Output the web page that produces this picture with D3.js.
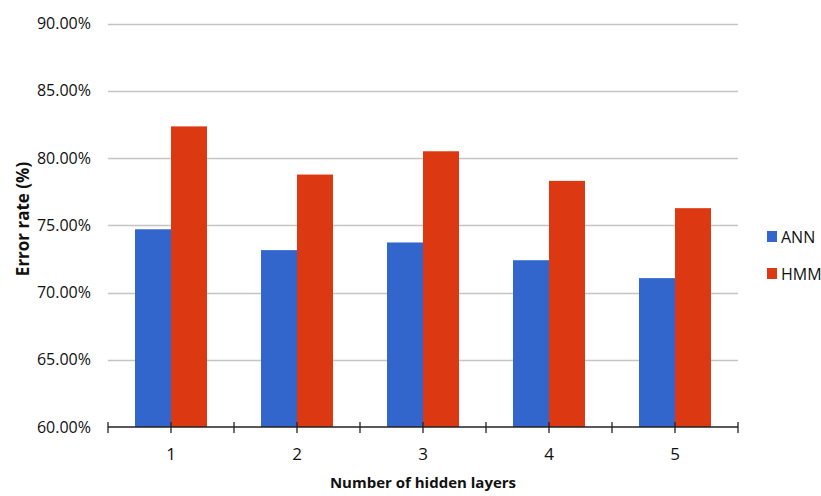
<!DOCTYPE html>
<html>
<head>
<meta charset="utf-8">
<script src="https://cdn.jsdelivr.net/npm/d3@7"></script>
<style>
  html, body { margin: 0; padding: 0; background: #fff; }
  svg { display: block; }
  text { font-family: "Open Sans", sans-serif; fill: #111; }
</style>
</head>
<body>
<svg id="chart" width="821" height="496"></svg>
<script>
// Error rate by number of hidden layers
const categories = ["1", "2", "3", "4", "5"];
const seriesNames = ["ANN", "HMM"];
const annValues = [74.7, 73.15, 73.72, 72.4, 71.07];
const hmmValues = [82.35, 78.77, 80.5, 78.3, 76.27];
const yTicks = [60, 65, 70, 75, 80, 85, 90];
const colors = ["#3366cc", "#dc3912"];

const svg = d3.select("#chart");
const margin = { left: 108, right: 83, top: 23.5, bottom: 69 };
const W = 821, H = 496;
const x0 = margin.left, x1 = W - margin.right;
const yTop = margin.top, yBot = H - margin.bottom;

const x = d3.scaleBand().domain(categories).range([x0, x1]).paddingInner(0).paddingOuter(0);
const inner = d3.scaleBand().domain(seriesNames).range([0, 72]);
const y = d3.scaleLinear().domain([60, 90]).range([yBot, yTop]);

// gridlines
svg.append("g")
  .selectAll("line")
  .data(yTicks.filter(t => t > 60))
  .join("line")
  .attr("x1", x0).attr("x2", x1)
  .attr("y1", d => Math.round(y(d)) + 0.5).attr("y2", d => Math.round(y(d)) + 0.5)
  .attr("stroke", "#c4c4c4").attr("stroke-width", 1.5);

// y tick labels
const yAxis = d3.axisLeft(y).tickValues(yTicks).tickSize(0).tickPadding(17)
  .tickFormat(d => d3.format(".2f")(d) + "%");
const gy = svg.append("g").attr("transform", `translate(${x0},0)`).call(yAxis);
gy.select(".domain").remove();
gy.selectAll("text").attr("font-size", 16).attr("font-family", "Open Sans, sans-serif").attr("fill", "#111");

// bars
const rows = categories.map((c, i) => ({ cat: c, vals: [annValues[i], hmmValues[i]] }));
const groups = svg.append("g").selectAll("g")
  .data(rows).join("g")
  .attr("transform", d => `translate(${x(d.cat) + x.bandwidth() / 2 - 36},0)`);
groups.selectAll("rect")
  .data(d => d.vals.map((v, k) => ({ name: seriesNames[k], v, k })))
  .join("rect")
  .attr("x", d => inner(d.name))
  .attr("width", inner.bandwidth())
  .attr("y", d => y(d.v))
  .attr("height", d => yBot - y(d.v))
  .attr("fill", d => colors[d.k]);

// x axis line and tick marks (category boundaries and centers)
const ax = svg.append("g").attr("stroke", "#222").attr("stroke-width", 1.3);
ax.append("line").attr("x1", x0).attr("x2", x1).attr("y1", yBot).attr("y2", yBot);
const bounds = categories.map(c => x(c)).concat([x1]);
const centers = categories.map(c => x(c) + x.bandwidth() / 2);
ax.selectAll(".tk").data(bounds.concat(centers)).join("line")
  .attr("x1", d => d).attr("x2", d => d)
  .attr("y1", yBot - 5).attr("y2", yBot + 6);

// x tick labels
svg.append("g").selectAll("text").data(categories).join("text")
  .attr("x", d => x(d) + x.bandwidth() / 2)
  .attr("y", 460)
  .attr("text-anchor", "middle")
  .attr("font-size", 17)
  .text(d => d);

// axis titles
svg.append("text")
  .attr("x", (x0 + x1) / 2).attr("y", 488)
  .attr("text-anchor", "middle")
  .attr("font-size", 15).attr("font-weight", "bold")
  .text("Number of hidden layers");
svg.append("text")
  .attr("transform", `translate(29,219) rotate(-90)`)
  .attr("text-anchor", "middle")
  .attr("font-size", 17).attr("font-weight", "bold")
  .text("Error rate (%)");

// legend
const lg = svg.append("g").selectAll("g").data(seriesNames).join("g")
  .attr("transform", (d, i) => `translate(767,${231 + i * 37})`);
lg.append("rect").attr("width", 10).attr("height", 11).attr("fill", (d, i) => colors[i]);
lg.append("text").attr("x", 14).attr("y", 11.5).attr("font-size", 16).text(d => d);
</script>
</body>
</html>
